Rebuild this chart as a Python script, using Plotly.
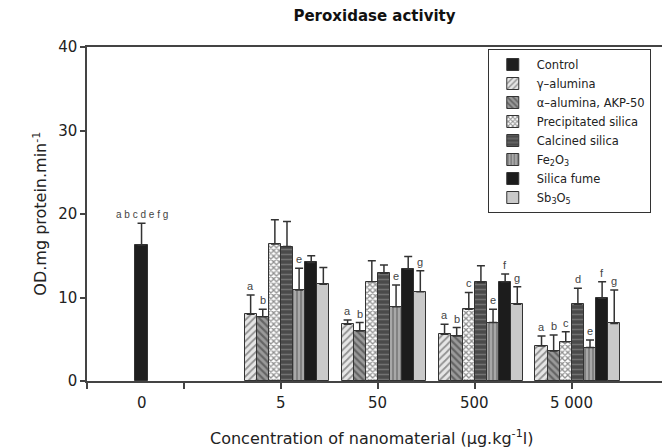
import plotly.graph_objects as go

# ---- data ----
categories = ["0", "5", "50", "500", "5 000"]
cat_pos = [1, 2, 3, 4, 5]

series_names = ["Control", "γ–alumina", "α–alumina, AKP-50", "Precipitated silica",
                "Calcined silica", "Fe<sub>2</sub>O<sub>3</sub>", "Silica fume",
                "Sb<sub>3</sub>O<sub>5</sub>"]

control      = [16.3, None, None, None, None]
gamma_al     = [None, 8.0, 6.8, 5.6, 4.2]
alpha_al     = [None, 7.7, 6.0, 5.4, 3.6]
precip_si    = [None, 16.4, 11.9, 8.6, 4.7]
calcined_si  = [None, 16.1, 12.9, 11.8, 9.2]
fe2o3        = [None, 10.9, 8.9, 7.0, 4.0]
silica_fume  = [None, 14.2, 13.4, 11.9, 9.9]
sb3o5        = [None, 11.6, 10.7, 9.2, 6.9]

control_err     = [2.6, 0, 0, 0, 0]
gamma_err       = [0, 2.3, 0.5, 1.2, 1.2]
alpha_err       = [0, 0.9, 1.0, 1.0, 1.9]
precip_err      = [0, 2.9, 2.5, 2.0, 1.2]
calcined_err    = [0, 3.0, 1.0, 2.0, 1.9]
fe2o3_err       = [0, 2.6, 2.6, 1.6, 0.9]
silica_fume_err = [0, 0.8, 1.5, 0.9, 2.0]
sb3o5_err       = [0, 2.0, 2.5, 2.1, 4.0]

letters_control = ["a b c d e f g", "", "", "", ""]
letters_gamma   = ["", "a", "a", "a", "a"]
letters_alpha   = ["", "b", "b", "b", "b"]
letters_precip  = ["", "", "", "c", "c"]
letters_calc    = ["", "", "", "", "d"]
letters_fe      = ["", "e", "e", "e", "e"]
letters_sf      = ["", "", "", "f", "f"]
letters_sb      = ["", "", "g", "g", "g"]

values = [control, gamma_al, alpha_al, precip_si, calcined_si, fe2o3, silica_fume, sb3o5]
errors = [control_err, gamma_err, alpha_err, precip_err, calcined_err, fe2o3_err,
          silica_fume_err, sb3o5_err]
letters = [letters_control, letters_gamma, letters_alpha, letters_precip, letters_calc,
           letters_fe, letters_sf, letters_sb]

# ---- styles ----
styles = [
    dict(color="#1f1f1f", pattern=None),
    dict(color="#ffffff", pattern=dict(shape="/", fgcolor="#3a3a3a", bgcolor="#e6e6e6", size=5, solidity=0.35)),
    dict(color="#ffffff", pattern=dict(shape="\\", fgcolor="#2e2e2e", bgcolor="#9a9a9a", size=5, solidity=0.45)),
    dict(color="#ffffff", pattern=dict(shape="x", fgcolor="#222222", bgcolor="#ffffff", size=4, solidity=0.55)),
    dict(color="#ffffff", pattern=dict(shape="-", fgcolor="#9a9a9a", bgcolor="#4a4a4a", size=5, solidity=0.3)),
    dict(color="#ffffff", pattern=dict(shape="|", fgcolor="#3c3c3c", bgcolor="#a8a8a8", size=4, solidity=0.35)),
    dict(color="#1c1c1c", pattern=None),
    dict(color="#c9c9c9", pattern=None),
]

FONT = "DejaVu Sans, Arial, sans-serif"
FONT_SMALL = "Arial, Liberation Sans, sans-serif"
fig = go.Figure()
for name, v, e, st in zip(series_names, values, errors, styles):
    marker = dict(color=st["color"], line=dict(color="#333333", width=1))
    if st["pattern"]:
        marker["pattern"] = st["pattern"]
    fig.add_trace(go.Bar(
        x=cat_pos, y=v, name=name, marker=marker,
        error_y=dict(type="data", array=e, arrayminus=[0] * len(e), symmetric=False,
                     color="#333333", thickness=1.5, width=4),
    ))

n = len(series_names)
slot_w = 1.0 / n
annotations = []
for i, (v, e, lt) in enumerate(zip(values, errors, letters)):
    for j in range(len(cat_pos)):
        if lt[j] and v[j] is not None:
            xpos = cat_pos[j] + (i - (n - 1) / 2) * slot_w
            annotations.append(dict(
                x=xpos, y=v[j] + e[j], xref="x", yref="y", text=lt[j],
                showarrow=False, yanchor="bottom", yshift=1,
                font=dict(family=FONT_SMALL, size=11 if i else 10, color="#444444")))

# category labels (label "0" sits below the control bar)
label_x = [cat_pos[0] - (n - 1) / 2 * slot_w] + cat_pos[1:]
for lx, lab in zip(label_x, categories):
    annotations.append(dict(x=lx, y=-0.066, xref="x", yref="paper", text=lab,
                            showarrow=False, yanchor="middle",
                            font=dict(family=FONT, size=15, color="#222222")))

annotations.append(dict(x=-0.104, y=0.5, xref="paper", yref="paper",
                        text="OD.mg protein.min<sup>-1</sup>", textangle=-90,
                        showarrow=False, font=dict(family=FONT, size=16, color="#222222")))
annotations.append(dict(x=0.495, y=-0.168, xref="paper", yref="paper",
                        text="Concentration of nanomaterial (µg.kg<sup>-1</sup>l)",
                        showarrow=False, yanchor="middle",
                        font=dict(family=FONT, size=16, color="#222222")))

fig.update_layout(
    width=662, height=448,
    margin=dict(l=87, r=0, t=47, b=67),
    paper_bgcolor="white", plot_bgcolor="white",
    barmode="group", bargap=0, bargroupgap=0,
    font=dict(family=FONT, color="#222222"),
    title=dict(text="<b>Peroxidase activity</b>", x=0.5, xref="paper", xanchor="center",
               y=0.965, yref="container", yanchor="middle",
               font=dict(family=FONT, size=15, color="#111111")),
    xaxis=dict(range=[0, 5.93], tickvals=[0, 1, 2, 3, 4, 5], ticktext=[""] * 6,
               ticks="outside", ticklen=6, tickcolor="#444444", tickwidth=1.5,
               showline=True, linecolor="#444444", linewidth=2, mirror=True,
               showgrid=False, zeroline=False),
    yaxis=dict(range=[0, 40], tickvals=[0, 10, 20, 30, 40],
               ticks="outside", ticklen=5, tickcolor="#444444", tickwidth=1.5,
               showline=True, linecolor="#444444", linewidth=1.5,
               showgrid=False, zeroline=False,
               tickfont=dict(family=FONT, size=15, color="#222222")),
    legend=dict(x=0.697, y=0.994, xanchor="left", yanchor="top",
                bgcolor="white", bordercolor="#333333", borderwidth=1,
                font=dict(family=FONT, size=11.5, color="#222222"),
                itemwidth=38, tracegroupgap=0),
    annotations=annotations,
    showlegend=True,
)

fig.write_html("out.html")
